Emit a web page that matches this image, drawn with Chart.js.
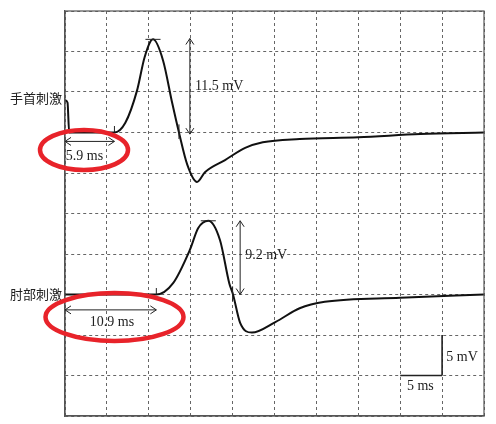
<!DOCTYPE html>
<html lang="ja">
<head>
<meta charset="UTF-8">
<title>神経伝導検査</title>
<script src="https://cdn.jsdelivr.net/npm/chart.js"></script>
<style>body{margin:0;background:#fff}</style>
</head>
<body>
<canvas id="c" width="496" height="424"></canvas>
<script>
// 時間 (ms) と電位 (mV, グラフ上の位置)
const wristTime = [0, 0.3, 0.5, 5.9, 7.2, 8.6, 9.5, 10.5, 11.7, 12.8, 13.6, 14.6, 15.75, 16.7, 19.1, 21.5, 23.6, 28, 35, 42.4, 50];
const wristVolt = [39, 38.7, 35, 35, 36.2, 40.2, 44.3, 46.5, 43.9, 38.6, 35, 31, 28.9, 30.1, 31.6, 33.1, 33.8, 34.2, 34.4, 34.8, 35];
const elbowTime = [0, 10.9, 12.9, 14.9, 15.9, 17.1, 18.5, 19.6, 20.05, 20.9, 22.3, 25.1, 28, 31, 40, 50];
const elbowVolt = [15, 15, 16.4, 20.5, 23.2, 24.1, 21.7, 16.4, 15, 11.5, 10.3, 11.6, 13.3, 14.1, 14.6, 15];
const pts = (t, v) => t.map((x, i) => ({x: x, y: v[i]}));

const serif = '14px "Liberation Serif", "Noto Sans CJK JP"';
const jp = '13px "Noto Sans CJK JP"';

const annotate = {
  id: 'annotate',
  afterDraw(chart) {
    const c = chart.ctx, xs = chart.scales.x, ys = chart.scales.y, a = chart.chartArea;
    const X = v => xs.getPixelForValue(v), Y = v => ys.getPixelForValue(v);
    c.save();
    c.strokeStyle = '#555'; c.lineWidth = 1.2; c.setLineDash([]);
    c.strokeRect(a.left, a.top, a.right - a.left, a.bottom - a.top);
    c.strokeStyle = '#222'; c.lineWidth = 1;
    function line(x1, y1, x2, y2) { c.beginPath(); c.moveTo(x1, y1); c.lineTo(x2, y2); c.stroke(); }
    function head(x, y, dx, dy) {
      const s = 6, w = 4;
      line(x, y, x - dx * s - dy * w, y - dy * s - dx * w);
      line(x, y, x - dx * s + dy * w, y - dy * s + dx * w);
    }
    function varrow(x, y1, y2) { const px = X(x), a1 = Y(y1), a2 = Y(y2); line(px, a1, px, a2); head(px, a1, 0, -1); head(px, a2, 0, 1); }
    function harrow(y, x1, x2) { const py = Y(y), a1 = X(x1), a2 = X(x2); line(a1, py, a2, py); head(a1, py, -1, 0); head(a2, py, 1, 0); }
    // 上段
    varrow(14.9, 46.6, 34.8);
    harrow(33.9, 0, 5.9);
    line(X(9.6), Y(46.5), X(11.4), Y(46.5));
    line(X(5.9), Y(35), X(5.9), Y(35.8));
    line(X(13.6), Y(34.2), X(13.6), Y(36));
    // 下段
    varrow(20.9, 24.1, 15);
    harrow(13.1, 0, 10.9);
    line(X(16.2), Y(24.1), X(18), Y(24.1));
    line(X(10.9), Y(15), X(10.9), Y(15.8));
    line(X(20.0), Y(14.2), X(20.0), Y(16));
    // スケールバー
    c.lineWidth = 1.6;
    line(X(40), Y(5), X(45), Y(5)); line(X(45), Y(5), X(45), Y(10));
    // テキスト
    c.fillStyle = '#222'; c.font = serif; c.textBaseline = 'middle';
    c.textAlign = 'left';
    c.fillText('11.5 mV', X(15.5), Y(40.7));
    c.fillText('9.2 mV', X(21.5), Y(19.8));
    c.fillText('5.9 ms', X(0.1), Y(32.1));
    c.fillText('5 mV', X(45.5), Y(7.3));
    c.textAlign = 'center';
    c.fillText('10.9 ms', X(5.6), Y(11.6));
    c.fillText('5 ms', X(42.4), Y(3.7));
    c.font = jp; c.textAlign = 'right';
    c.fillText('手首刺激', a.left - 3, Y(39.2));
    c.fillText('肘部刺激', a.left - 3, Y(15));
    // 赤い楕円
    c.strokeStyle = '#e8232a'; c.lineWidth = 4.5;
    c.beginPath(); c.ellipse(84, 150, 44, 20, 0, 0, Math.PI * 2); c.stroke();
    c.beginPath(); c.ellipse(114.5, 317, 69, 24, 0, 0, Math.PI * 2); c.stroke();
    c.restore();
  }
};

const grid = {color: '#666', lineWidth: 1, drawTicks: false};
const border = {display: true, color: '#555', dash: [3, 3], width: 1.2};

new Chart(document.getElementById('c'), {
  type: 'scatter',
  data: {
    datasets: [
      {data: pts(wristTime, wristVolt)},
      {data: pts(elbowTime, elbowVolt)}
    ].map(d => Object.assign(d, {showLine: true, borderColor: '#111', borderWidth: 2, pointRadius: 0, cubicInterpolationMode: 'monotone', fill: false}))
  },
  options: {
    responsive: false, animation: false,
    layout: {padding: {left: 65, top: 11, right: 12, bottom: 8}},
    plugins: {legend: {display: false}, tooltip: {enabled: false}},
    scales: {
      x: {min: 0, max: 50, ticks: {display: false, stepSize: 5}, grid: grid, border: Object.assign({}, border)},
      y: {min: 0, max: 50, ticks: {display: false, stepSize: 5}, grid: grid, border: Object.assign({}, border)}
    }
  },
  plugins: [annotate]
});
</script>
</body>
</html>
